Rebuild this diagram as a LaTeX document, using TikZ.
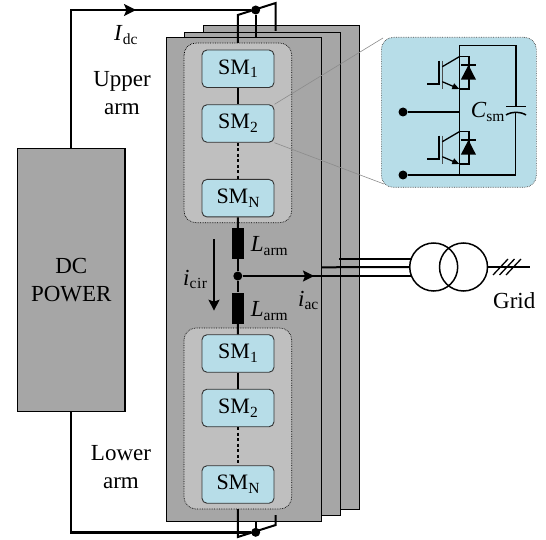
\documentclass[tikz,border=0pt]{standalone}
\usepackage{fontspec}
\setmainfont{Liberation Serif}
\usetikzlibrary{arrows.meta}
\definecolor{panel}{HTML}{A6A6A6}
\definecolor{inner}{HTML}{BFBFBF}
\definecolor{smblue}{HTML}{B7DDE8}
\newcommand{\sbs}[1]{\raisebox{-0.17em}{\fontsize{15.5}{15.5}\selectfont #1}}
\tikzset{
  x=1pt,y=-1pt,
  panelbox/.style={draw=black,fill=panel,line width=0.9pt},
  armbox/.style={draw=black,fill=inner,densely dotted,line width=0.7pt,rounded corners=12pt},
  smbox/.style={draw=black!80,fill=smblue,line width=0.9pt,rounded corners=5pt,minimum width=72pt,minimum height=37.5pt,inner sep=0pt,font=\fontsize{22}{22}\selectfont},
  wire/.style={line width=2pt},
  thin wire/.style={line width=1.3pt},
  lbl/.style={font=\fontsize{23}{28}\selectfont,inner sep=0pt,align=center},
  dotnode/.style={circle,fill=black,inner sep=0pt,minimum size=9pt},
  tip/.style={-{Stealth[length=12pt,width=12pt,inset=2.5pt]}},
  smalltip/.style={-{Stealth[length=11pt,width=11pt,inset=2pt]}},
}
\newcommand{\igbt}[2]{%
  \begin{scope}[shift={(#1,#2)}]
    \draw[thin wire] (0,0) -- (9.7,0) -- (9.7,32.3) -- (0,32.3);
    \fill (1.5,23) -- (16.7,23) -- (9.2,8.3) -- cycle;
    \draw[thin wire] (1.5,8.3) -- (17,8.3);
    \draw[line width=1.6pt,black!70] (-17,4) -- (-17,32.7);
    \draw[thin wire] (-20.3,4) -- (-20.3,27.3) -- (-32.3,27.3);
    \draw[thin wire] (-17,10) -- (0,0);
    \draw[thin wire,-{Triangle[length=7pt,width=6pt]}] (-17,25) -- (0,32.3);
  \end{scope}}
\begin{document}
\begin{tikzpicture}
\useasboundingbox (0,0) rectangle (546,540);
% panels
\draw[panelbox] (203.5,25) rectangle (359.3,509);
\draw[panelbox] (184,32) rectangle (340,515);
\draw[panelbox] (166,37) rectangle (321.7,521);
% arms
\draw[armbox] (184,43) rectangle (291.7,222.7);
\draw[armbox] (184,328) rectangle (291.7,509);
% DC box
\node[draw=black,fill=panel,line width=1.5pt,minimum width=107.6pt,minimum height=262.7pt,inner sep=0pt,anchor=north west,lbl] (dc) at (16.7,148) {DC\\POWER};
% SMs
\node[smbox] (a1) at (238,68.75) {SM\sbs{1}};
\node[smbox] (a2) at (238,123.5) {SM\sbs{2}};
\node[smbox] (an) at (238,198.2) {SM\sbs{N}};
\node[smbox] (b1) at (238,353.5) {SM\sbs{1}};
\node[smbox] (b2) at (238,408) {SM\sbs{2}};
\node[smbox] (bn) at (238,484.5) {SM\sbs{N}};
\draw[wire] (a1) -- (a2);
\draw[wire,dash pattern=on 3pt off 2.5pt] (a2) -- (an);
\draw[wire] (b1) -- (b2);
\draw[wire,dash pattern=on 3pt off 2.5pt] (b2) -- (bn);
% inductors
\node[fill=black,minimum width=11.5pt,minimum height=31pt,inner sep=0pt] (l1) at (237.8,243.5) {};
\node[fill=black,minimum width=11.5pt,minimum height=31pt,inner sep=0pt] (l2) at (237.8,308) {};
\node[dotnode] (mid) at (237.8,276) {};
\draw[wire] (an) -- (l1);
\draw[wire] (l1) -- (mid);
\draw[wire] (mid) -- (l2);
\draw[wire] (l2) -- (b1);
% top bus
\coordinate (ktl) at (237.8,15);
\coordinate (ktr) at (275.7,3);
\node[dotnode] (top) at (255.7,10) {};
\coordinate (wtl) at (70.7,10);
\draw[wire,line width=2.4pt] (dc.north -| wtl) -- (wtl) -- (top);
\draw[wire,line join=miter] (237.8,43) -- (ktl) -- (ktr) -- (275.7,31);
\draw[wire] (top) -- (255.7,37);
\draw[wire,tip] (wtl) -- (136,10);
% bottom bus
\coordinate (kbl) at (237.8,537);
\coordinate (kbr) at (275.7,525);
\node[dotnode] (bot) at (255.7,532.3) {};
\coordinate (wbl) at (70.7,532.3);
\draw[wire,line width=2.4pt] (dc.south -| wbl) -- (wbl) -- (bot);
\draw[wire] (237.8,509) -- (kbl) -- (kbr) -- (275.7,515);
\draw[wire] (bot) -- (255.7,521);
% ac lines
\node[circle,draw=black,line width=1.5pt,minimum size=48pt,inner sep=0pt] (t1) at (433.7,267) {};
\node[circle,draw=black,line width=1.5pt,minimum size=48pt,inner sep=0pt] (t2) at (463.5,267) {};
\coordinate (g) at (530,267);
\draw[wire] (t2.east) -- (g);
\foreach \d in {0,6.5,13} \draw[thin wire] (493+\d,275) -- (508+\d,259);
\draw[wire] (mid) -- (412,276);
\draw[wire] (321.7,267.3) -- (t1.west);
\draw[wire] (339.3,258.7) -- (412,258.7);
\draw[wire,smalltip] (mid) -- (314,276);
\draw[line width=1.2pt,smalltip] (214,239) -- (214,310.7);
% labels
\node[lbl,anchor=base west] at (114,40.7) {\textit{I}\sbs{dc}};
\node[lbl] (up) at (122,93) {Upper\\arm};
\node[lbl] (lo) at (121,467) {Lower\\arm};
\node[lbl,anchor=base west] at (250.7,251.7) {\textit{L}\sbs{arm}};
\node[lbl,anchor=base west] at (250.7,316.7) {\textit{L}\sbs{arm}};
\node[lbl,anchor=base west] at (183,285) {\textit{i}\sbs{c\kern0.6pt i\kern0.6pt r}};
\node[lbl,anchor=base west] at (298,306) {\textit{i}\sbs{ac}};
\node[lbl,anchor=base west] at (493,308) {Grid};
% zoom
\draw[black!45,line width=0.6pt] (a2.north east) -- (383,38);
\draw[black!45,line width=0.6pt] (a2.south east) -- (384,184);
\node[draw=black!70,fill=smblue,densely dotted,line width=0.7pt,rounded corners=12pt,minimum width=155pt,minimum height=150pt,inner sep=0pt,anchor=north west] (cell) at (381,37) {};
\node[dotnode] (p1) at (403,112) {};
\node[dotnode] (p2) at (403,175) {};
\coordinate (c1) at (459.3,45.7);
\coordinate (c2) at (515.7,45.7);
\coordinate (c3) at (515.7,175);
\coordinate (c4) at (459.3,112);
\coordinate (c5) at (459.3,175);
\draw[wire,line width=1.6pt] (c5) -- (c1) -- (c2) -- (515.7,106.7);
\draw[thin wire] (515.7,113) -- (c3);
\draw[thin wire] (p1) -- (c4);
\draw[wire] (p2) -- (c3);
\draw[line width=1.5pt] (506,106.7) -- (526,106.7);
\draw[line width=1.5pt] (506,115) .. controls (511,111.5) and (521,111.5) .. (526,115);
\igbt{459.3}{56.7}
\igbt{459.3}{131.7}
\node[lbl,anchor=base west] at (470.7,118) {\textit{C}\sbs{sm}};
\end{tikzpicture}
\end{document}
